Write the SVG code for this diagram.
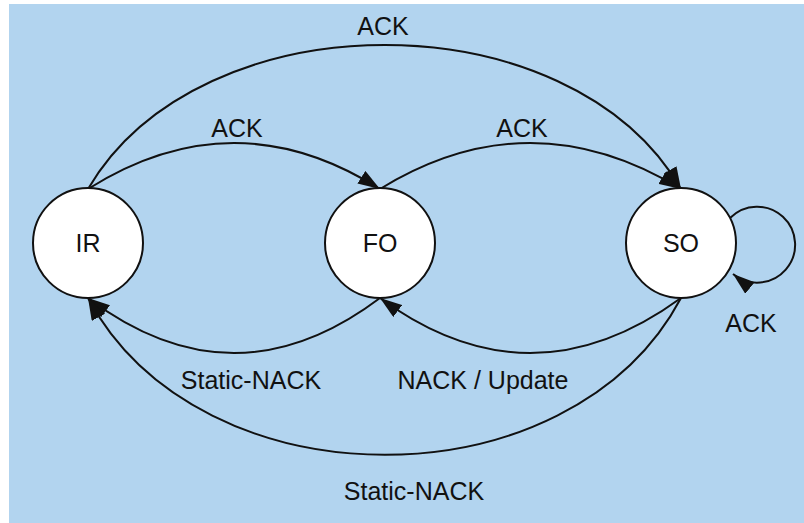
<svg xmlns="http://www.w3.org/2000/svg" width="804" height="523" viewBox="0 0 804 523">
<defs>
<marker id="arr" viewBox="0 0 22 15" refX="22" refY="7.5" markerWidth="22" markerHeight="15" markerUnits="userSpaceOnUse" orient="auto">
<path d="M0,0 L22,7.5 L0,15 z" fill="#111"/>
</marker>
<style>
.node{fill:#fff;stroke:#111;stroke-width:2}
.edge{fill:none;stroke:#111;stroke-width:2;marker-end:url(#arr)}
text{font-family:"Liberation Sans",Arial,sans-serif;font-size:25px;fill:#111;text-anchor:middle}
</style>
</defs>
<rect x="0" y="0" width="804" height="523" fill="#fff"/>
<rect x="9" y="4" width="795" height="519" fill="#b2d4ef"/>
<g id="connectors">
<path class="edge" d="M88,189 Q234,97 380,189"/>
<path class="edge" d="M380,189 Q530,97 681,189"/>
<path class="edge" d="M88,189 C200,-3 570,-3 681,189"/>
<path class="edge" d="M380,298 Q234,408 88,298"/>
<path class="edge" d="M681,298 Q530,408 380,298"/>
<path class="edge" d="M681,298 C570,507 200,507 88,298"/>
<path class="edge" d="M730,218 A38,38 0 1 1 733,274"/>
<text x="383" y="35">ACK</text>
<text x="237" y="137">ACK</text>
<text x="522" y="137">ACK</text>
<text x="751" y="332">ACK</text>
<text x="251" y="389">Static-NACK</text>
<text x="483" y="389">NACK / Update</text>
<text x="414" y="500">Static-NACK</text>
</g>
<g id="IR"><circle class="node" cx="88" cy="243" r="55"/><text x="88" y="252">IR</text></g>
<g id="FO"><circle class="node" cx="380" cy="243" r="55"/><text x="380" y="252">FO</text></g>
<g id="SO"><circle class="node" cx="681" cy="243" r="55"/><text x="681" y="252">SO</text></g>
</svg>
